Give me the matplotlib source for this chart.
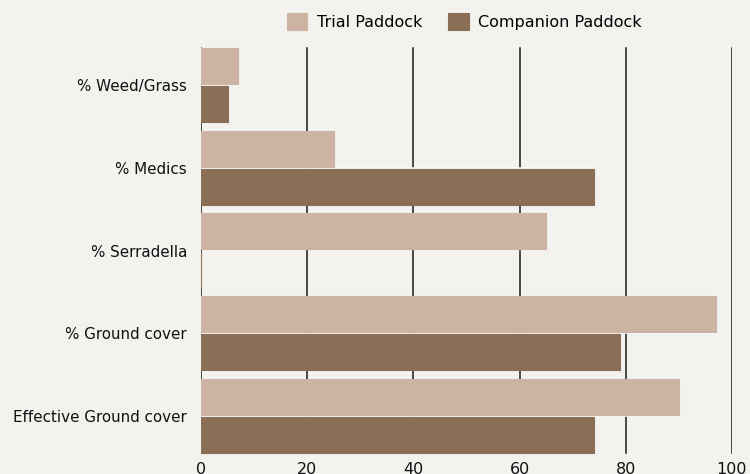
import numpy as np
import matplotlib.pyplot as plt

# categories top to bottom
categories = ['% Weed/Grass', '% Medics', '% Serradella', '% Ground cover', 'Effective Ground cover']
trial = [7, 25, 65, 97, 90]
companion = [5, 74, 0, 79, 74]
xticks = [0, 20, 40, 60, 80, 100]

bg = '#f3f2ef'
c_trial = '#cdb3a1'
c_comp = '#8a6f56'

plt.rcParams['font.family'] = ['DejaVu Sans']

fig = plt.figure(figsize=(7.5, 4.74), dpi=100, facecolor=bg)
ax = fig.add_axes([0.268, 0.035, 0.708, 0.873], facecolor=bg)

y = np.arange(len(categories))
h = 0.435
gap = 0.013
ax.barh(y - h / 2 - gap, trial, height=h, color=c_trial, label='Trial Paddock',
        edgecolor=c_trial, linewidth=0.8, joinstyle='round', zorder=3)
ax.barh(y + h / 2 + gap, companion, height=h, color=c_comp, label='Companion Paddock',
        edgecolor=c_comp, linewidth=0.8, joinstyle='round', zorder=3)
# thin light seam between the two bars of a group
for yi, t, c in zip(y, trial, companion):
    if min(t, c) > 0:
        ax.plot([0, max(t, c)], [yi, yi], color='#fbfaf8', lw=1.2, zorder=2)

ax.set_ylim(len(categories) - 0.5, -0.5)
ax.set_xlim(0, 100)
ax.set_yticks(y)
ax.set_yticklabels(categories, fontsize=10.9, color='#111')
ax.set_xticks(xticks)
ax.set_xticklabels([str(v) for v in xticks], fontsize=11.5, color='#111')
ax.tick_params(axis='y', length=0, pad=10)
ax.tick_params(axis='x', length=0, pad=3.5)

for v in xticks:
    ax.axvline(v, ymin=0.011, ymax=0.99, color='#1a1a1a', lw=1.1, zorder=1)
for s in ax.spines.values():
    s.set_visible(False)

leg = fig.legend(loc='upper center', bbox_to_anchor=(0.619, 1.003), ncol=2, frameon=False,
                 fontsize=11.5, handlelength=1.3, handleheight=1.3, columnspacing=1.6,
                 handletextpad=0.6)

fig.savefig('out.png', dpi=100, facecolor=bg)
